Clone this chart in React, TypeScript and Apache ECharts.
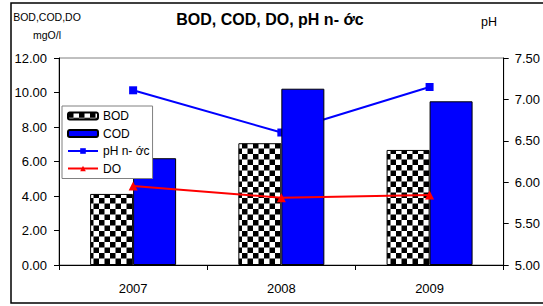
import React, { useEffect, useRef } from "react";
import * as echarts from "echarts";

const years = ["2007", "2008", "2009"];
const bod = [4.12, 7.06, 6.67];
const cod = [6.19, 10.22, 9.49];
const ph = [7.11, 6.6, 7.15];
const doVals = [4.58, 3.9, 4.06];

const FONT = "Liberation Sans, Arial, sans-serif";

function makeChecker(): string {
  const c = document.createElement("canvas");
  c.width = 11;
  c.height = 11;
  const ctx = c.getContext("2d")!;
  ctx.fillStyle = "#ffffff";
  ctx.fillRect(0, 0, 11, 11);
  ctx.fillStyle = "#000000";
  ctx.fillRect(0, 0, 5.5, 5.5);
  ctx.fillRect(5.5, 5.5, 5.5, 5.5);
  return c.toDataURL();
}

export default function App() {
  const ref = useRef<HTMLDivElement>(null);
  useEffect(() => {
    document.body.style.margin = "0";
    const chart = echarts.init(ref.current!, undefined, { renderer: "svg" });
    const checker = {
      image: makeChecker(),
      repeat: "repeat",
      imageWidth: 11,
      imageHeight: 11,
    };
    chart.setOption({
      animation: false,
      textStyle: { fontFamily: FONT },
      grid: {
        left: 59,
        right: 36,
        top: 58,
        bottom: 41,
        show: true,
        borderColor: "#808080",
        borderWidth: 1,
      },
      legend: {
        orient: "vertical",
        left: 62,
        top: 106,
        padding: [4, 3, 4, 5],
        itemWidth: 30,
        itemHeight: 7,
        itemGap: 5.5,
        backgroundColor: "#fff",
        borderColor: "#808080",
        borderWidth: 1,
        textStyle: { fontSize: 12, color: "#000", fontFamily: FONT },
        data: [
          { name: "BOD" },
          { name: "COD" },
          { name: "pH n- ớc" },
          { name: "DO" },
        ],
      },
      xAxis: {
        type: "category",
        data: years,
        axisLine: { lineStyle: { color: "#000", width: 1 } },
        axisTick: { show: true, length: 5, lineStyle: { color: "#000" } },
        axisLabel: { color: "#000", fontSize: 13, margin: 17, fontFamily: FONT },
      },
      yAxis: [
        {
          type: "value",
          min: 0,
          max: 12,
          interval: 2,
          splitLine: { show: false },
          axisLine: { show: true, lineStyle: { color: "#000", width: 1 } },
          axisTick: { show: true, length: 5, lineStyle: { color: "#000" } },
          axisLabel: {
            color: "#000",
            fontSize: 13,
            margin: 12,
            fontFamily: FONT,
            formatter: (v: number) => v.toFixed(2),
          },
        },
        {
          type: "value",
          min: 5,
          max: 7.5,
          interval: 0.5,
          splitLine: { show: false },
          axisLine: { show: true, lineStyle: { color: "#000", width: 1 } },
          axisTick: { show: true, length: 5, lineStyle: { color: "#000" } },
          axisLabel: {
            color: "#000",
            fontSize: 13,
            margin: 11,
            fontFamily: FONT,
            formatter: (v: number) => v.toFixed(2),
          },
        },
      ],
      series: [
        {
          name: "pH n- ớc",
          type: "line",
          yAxisIndex: 1,
          data: ph,
          z: 1,
          symbol: "rect",
          symbolSize: 8,
          lineStyle: { color: "#0000ff", width: 2 },
          itemStyle: { color: "#0000ff" },
        },
        {
          name: "BOD",
          type: "bar",
          data: bod,
          z: 2,
          barWidth: 43,
          barGap: "0%",
          itemStyle: { color: checker, borderColor: "#000", borderWidth: 1 },
        },
        {
          name: "COD",
          type: "bar",
          data: cod,
          z: 2,
          barWidth: 43,
          barGap: "0%",
          itemStyle: { color: "#0000ff", borderColor: "#000", borderWidth: 1 },
        },
        {
          name: "DO",
          type: "line",
          data: doVals,
          z: 3,
          symbol: "triangle",
          symbolSize: 9,
          lineStyle: { color: "#ff0000", width: 2 },
          itemStyle: { color: "#ff0000" },
        },
      ],
      graphic: [
        {
          type: "rect",
          shape: { x: 11, y: 3, width: 540, height: 300 },
          style: { fill: "none", stroke: "#000", lineWidth: 1.5 },
          silent: true,
        },
        {
          type: "text",
          x: 270,
          y: 19,
          style: {
            text: "BOD, COD, DO, pH n- ớc",
            font: "bold 16px " + FONT,
            fill: "#000",
            textAlign: "center",
            textVerticalAlign: "middle",
          },
        },
        {
          type: "text",
          x: 47,
          y: 17,
          style: {
            text: "BOD,COD,DO",
            font: "10.5px " + FONT,
            fill: "#000",
            textAlign: "center",
            textVerticalAlign: "middle",
          },
        },
        {
          type: "text",
          x: 47,
          y: 35,
          style: {
            text: "mgO/l",
            font: "10.5px " + FONT,
            fill: "#000",
            textAlign: "center",
            textVerticalAlign: "middle",
          },
        },
        {
          type: "text",
          x: 489,
          y: 22,
          style: {
            text: "pH",
            font: "12.5px " + FONT,
            fill: "#000",
            textAlign: "center",
            textVerticalAlign: "middle",
          },
        },
      ],
    });
    return () => chart.dispose();
  }, []);
  return <div ref={ref} style={{ width: 543, height: 306 }} />;
}
